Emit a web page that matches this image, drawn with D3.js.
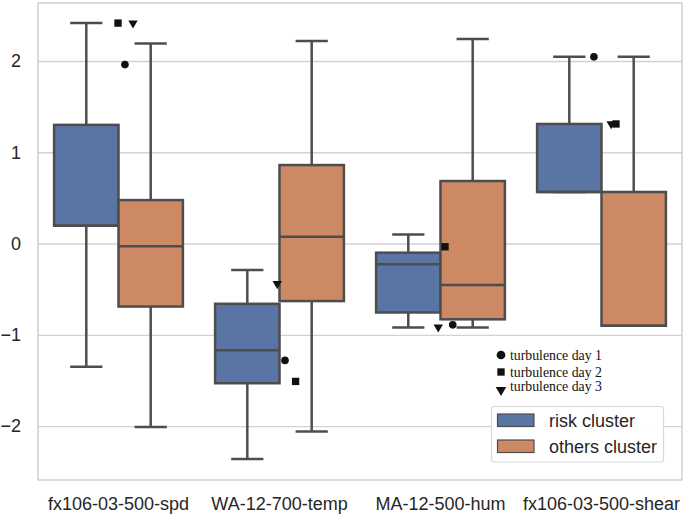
<!DOCTYPE html>
<html>
<head>
<meta charset="utf-8">
<script src="https://cdn.jsdelivr.net/npm/d3@7"></script>
<style>
  body { margin: 0; background: #fff; }
  svg { display: block; }
</style>
</head>
<body>
<svg id="chart" width="685" height="515"></svg>
<script>
// ---- data ----
const categories = ["fx106-03-500-spd", "WA-12-700-temp", "MA-12-500-hum", "fx106-03-500-shear"];
const hues = ["risk cluster", "others cluster"];
// [whiskerLow, Q1, median, Q3, whiskerHigh] per category
const riskStats = [
  [-1.35, 0.195, 0.195, 1.30, 2.415],
  [-2.36, -1.53, -1.17, -0.66, -0.29],
  [-0.92, -0.755, -0.228, -0.10, 0.10],
  [0.565, 0.565, 0.565, 1.31, 2.045]
];
const othersStats = [
  [-2.01, -0.69, -0.03, 0.476, 2.19],
  [-2.06, -0.63, 0.075, 0.86, 2.22],
  [-0.92, -0.83, -0.455, 0.685, 2.24],
  [-0.90, -0.90, -0.90, 0.565, 2.045]
];
const yTicks = [-2, -1, 0, 1, 2];
// turbulence day points: category index offset (in category units) and value
const day1 = [[0.04, 1.96], [0.034, -1.28], [0.076, -0.89], [-0.047, 2.045]];
const day2 = [[-0.003, 2.415], [0.10, -1.51], [0.028, -0.035], [0.09, 1.31]];
const day3 = [[0.09, 2.415], [-0.014, -0.44], [-0.014, -0.915], [0.06, 1.31]];
const dayLabels = ["turbulence day 1", "turbulence day 2", "turbulence day 3"];

// ---- layout ----
const svg = d3.select("#chart");
const L = 38, R = 682, T = 3, B = 480;
const fills = ["#5975a4", "#cc8963"];
const edge = "#4d4d4d";
const grid = "#d2d2d2";
const txt = "#262626";

const x = d3.scaleBand().domain(categories).range([L, R]).paddingInner(0).paddingOuter(0);
const xPos = d3.scaleLinear().domain([-0.5, categories.length - 0.5]).range([L, R]);
const y = d3.scaleLinear().domain([-2.59, 2.635]).range([B, T]);
const boxW = x.bandwidth() * 0.4;

// grid
const yAxis = d3.axisLeft(y).tickValues(yTicks).tickSize(-(R - L)).tickPadding(17).tickFormat(d3.format("d"));
const gy = svg.append("g").attr("transform", `translate(${L},0)`).call(yAxis);
gy.select(".domain").remove();
gy.selectAll(".tick line").attr("stroke", grid).attr("stroke-width", 1.4);
gy.selectAll(".tick text").attr("fill", txt).attr("font-size", 18).attr("font-family", "Liberation Sans, Arial, sans-serif");

// frame
svg.append("rect").attr("x", L).attr("y", T).attr("width", R - L).attr("height", B - T)
  .attr("fill", "none").attr("stroke", grid).attr("stroke-width", 1.6);

// x axis labels
const xAxis = d3.axisBottom(x).tickSize(0).tickPadding(17);
const gx = svg.append("g").attr("transform", `translate(0,${B})`).call(xAxis);
gx.select(".domain").remove();
gx.selectAll(".tick text").attr("fill", txt).attr("font-size", 18).attr("font-family", "Liberation Sans, Arial, sans-serif");

// boxes
const series = [riskStats, othersStats];
series.forEach((stats, h) => {
  const g = svg.append("g");
  stats.forEach((s, i) => {
    const [lo, q1, med, q3, hi] = s;
    const x0 = x(categories[i]) + x.bandwidth() * 0.1 + h * boxW;
    const cx = x0 + boxW / 2;
    const bg = g.append("g");
    bg.append("line").attr("x1", cx).attr("x2", cx).attr("y1", y(q3)).attr("y2", y(hi))
      .attr("stroke", edge).attr("stroke-width", 2.5);
    bg.append("line").attr("x1", cx).attr("x2", cx).attr("y1", y(q1)).attr("y2", y(lo))
      .attr("stroke", edge).attr("stroke-width", 2.5);
    bg.append("line").attr("x1", cx - boxW / 4).attr("x2", cx + boxW / 4).attr("y1", y(hi)).attr("y2", y(hi))
      .attr("stroke", edge).attr("stroke-width", 2.5);
    bg.append("line").attr("x1", cx - boxW / 4).attr("x2", cx + boxW / 4).attr("y1", y(lo)).attr("y2", y(lo))
      .attr("stroke", edge).attr("stroke-width", 2.5);
    bg.append("rect").attr("x", x0).attr("y", y(q3)).attr("width", boxW).attr("height", y(q1) - y(q3))
      .attr("fill", fills[h]).attr("stroke", edge).attr("stroke-width", 2.5);
    bg.append("line").attr("x1", x0).attr("x2", x0 + boxW).attr("y1", y(med)).attr("y2", y(med))
      .attr("stroke", edge).attr("stroke-width", 2.5);
  });
});

// turbulence points
const mark = "#111";
const symCircle = d3.symbol().type(d3.symbolCircle).size(46)();
const symSquare = d3.symbol().type(d3.symbolSquare).size(54)();
const symTri = d3.symbol().type(d3.symbolTriangle).size(38)();
const pts = svg.append("g");
const drawPts = (arr, path, rot) => {
  arr.forEach((d, i) => {
    pts.append("path").attr("d", path)
      .attr("transform", `translate(${xPos(i + d[0])},${y(d[1])}) rotate(${rot})`)
      .attr("fill", mark);
  });
};
drawPts(day1, symCircle, 0);
drawPts(day2, symSquare, 0);
drawPts(day3, symTri, 180);

// turbulence annotation
const ann = svg.append("g");
const annSyms = [d3.symbol().type(d3.symbolCircle).size(60)(), symSquare, d3.symbol().type(d3.symbolTriangle).size(48)()];
const annY = [355, 372, 388.5];
const annRot = [0, 0, 180];
dayLabels.forEach((lab, i) => {
  ann.append("path").attr("d", annSyms[i])
    .attr("transform", `translate(501,${annY[i] + (i === 2 ? 1.5 : 0)}) rotate(${annRot[i]})`).attr("fill", mark);
  ann.append("text").attr("x", 510).attr("y", annY[i] - (i === 2 ? 2 : 0)).attr("dy", "0.35em")
    .attr("font-family", "Liberation Serif, Times New Roman, serif").attr("font-size", 13.8)
    .attr("fill", "#111").text(lab);
});

// legend
const lg = svg.append("g");
lg.append("rect").attr("x", 491.5).attr("y", 406.5).attr("width", 172).attr("height", 55.5)
  .attr("rx", 3).attr("fill", "#fff").attr("fill-opacity", 0.9).attr("stroke", "#d8d8d8").attr("stroke-width", 1.2);
hues.forEach((h, i) => {
  const yy = 414 + i * 26;
  lg.append("rect").attr("x", 497.5).attr("y", yy).attr("width", 36.5).attr("height", 12.5)
    .attr("fill", fills[i]).attr("stroke", edge).attr("stroke-width", 1.2);
  lg.append("text").attr("x", 549).attr("y", yy + 6.5).attr("dy", "0.35em")
    .attr("font-family", "Liberation Sans, Arial, sans-serif").attr("font-size", 18)
    .attr("fill", txt).text(h);
});
</script>
</body>
</html>
